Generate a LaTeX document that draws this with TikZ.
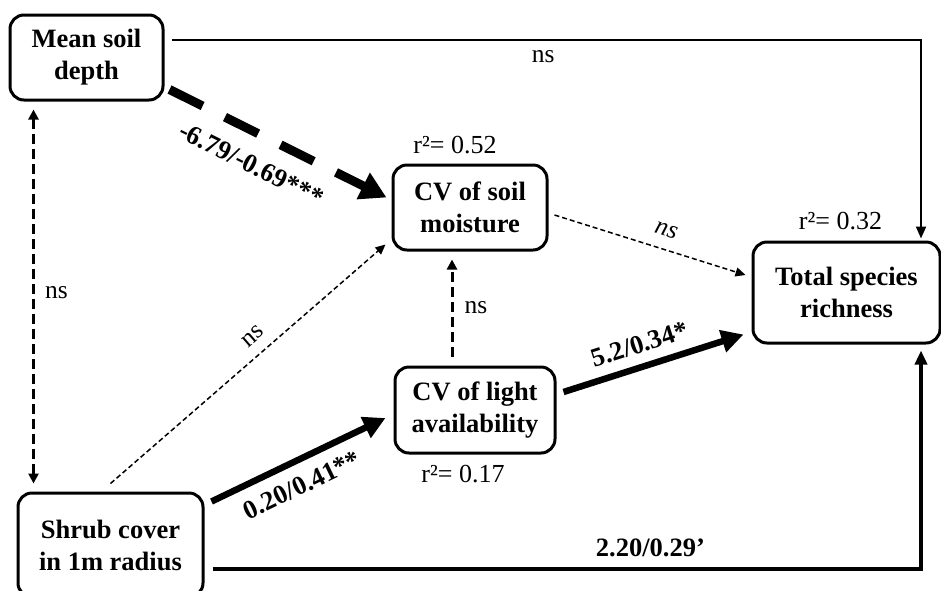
\documentclass[tikz,border=0pt]{standalone}
\usepackage{fontspec}
\setmainfont{Liberation Serif}
\usetikzlibrary{arrows.meta,calc}
\definecolor{LineClr}{rgb}{0,0,0}

\begin{document}
\begin{tikzpicture}[x=1pt,y=-1pt,
  varbox/.style={draw=LineClr,line width=3pt,rounded corners=14pt,align=center,
    inner sep=0pt,font=\fontsize{26.5}{32}\selectfont\bfseries},
  coef/.style={inner sep=2pt,font=\fontsize{26.5}{32}\selectfont\bfseries},
  nslab/.style={inner sep=2pt,font=\fontsize{25.5}{30}\selectfont},
  rlab/.style={inner sep=0pt,font=\fontsize{26}{30}\selectfont},
  plainarrow/.style={draw=LineClr,line width=2pt,-{Triangle[length=12pt,width=10pt]}},
  dotarrow/.style={draw=LineClr,line width=1.5pt,dash pattern=on 5pt off 3pt,
    -{Triangle[length=10pt,width=9pt]}},
  dasharrow/.style={draw=LineClr,line width=3pt,dash pattern=on 10pt off 5pt},
  bigdash/.style={draw=LineClr,line width=9pt,dash pattern=on 37pt off 25pt,
    -{Triangle[length=26pt,width=28pt]}},
  boldarrow/.style={draw=LineClr,line width=6.5pt,-{Triangle[length=22pt,width=22pt]}},
  baseline arrow/.style={draw=LineClr,line width=4pt,-{Triangle[length=14pt,width=12pt]}}]
\clip (0,0) rectangle (941,590);

\node[varbox,minimum width=153pt,minimum height=85pt] (msd) at (86.5,57.5) {Mean soil\\depth};
\node[varbox,minimum width=185pt,minimum height=104pt] (shrub) at (110.5,545) {Shrub cover\\in 1m radius};
\node[varbox,minimum width=154pt,minimum height=85pt] (moist) at (470,207.5) {CV of soil\\moisture};
\node[varbox,minimum width=160pt,minimum height=86pt] (light) at (475,410) {CV of light\\availability};
\node[varbox,minimum width=187pt,minimum height=101pt] (rich) at (846.5,292.5) {Total species\\richness};

\node[rlab] (rmoist) at ([shift={(-15,-18)}]moist.north) {r²= 0.52};
\node[rlab] (rlight) at ([shift={(-12,20)}]light.south) {r²= 0.17};
\node[rlab] (rrich) at ([shift={(-6,-19)}]rich.north) {r²= 0.32};

\draw[plainarrow] ([shift={(7,-17.5)}]msd.east) -| ([shift={(74.5,-2)}]rich.north)
  node[nslab,pos=0.248,below=7pt] {ns};
\draw[dasharrow,{Triangle[length=10pt,width=10pt]}-{Triangle[length=10pt,width=10pt]}]
  ([shift={(25,8)}]msd.south west) -- ([shift={(17,-8)}]shrub.north west)
  node[nslab,pos=0.49,right=8pt] {ns};
\draw[bigdash] ([shift={(5,-12)}]msd.south east) -- ([shift={(-5,-10)}]moist.west)
  node[coef,sloped,pos=0.44,below=15pt] {-6.79/-0.69***};
\draw[dotarrow] ([shift={(0,-8)}]shrub.north) -- ([shift={(-6,-7)}]moist.south west)
  node[nslab,sloped,pos=0.56,above=9pt] {ns};
\draw[boldarrow] ([shift={(7,10)}]shrub.north east) -- ([shift={(-8,8)}]light.west)
  node[coef,sloped,pos=0.46,below=10pt] {0.20/0.41**};
\draw[dasharrow,-{Triangle[length=10pt,width=10pt]}] ([shift={(-23,-9)}]light.north) -- ([shift={(-18,8)}]moist.south)
  node[nslab,midway,right=9pt] {ns};
\draw[dotarrow] ([shift={(6,7.5)}]moist.east) -- ([shift={(-6,-17.5)}]rich.west)
  node[nslab,sloped,pos=0.555,above=10pt] {\itshape ns};
\draw[boldarrow] ([shift={(7,-18)}]light.east) -- ([shift={(-8,-10)}]rich.south west)
  node[coef,sloped,pos=0.46,above=8pt] {5.2/0.34*};
\draw[baseline arrow] ([shift={(8,24)}]shrub.east) -| ([shift={(74.5,6)}]rich.south)
  node[coef,pos=0.309,above=8pt] {2.20/0.29’};
\end{tikzpicture}
\end{document}
